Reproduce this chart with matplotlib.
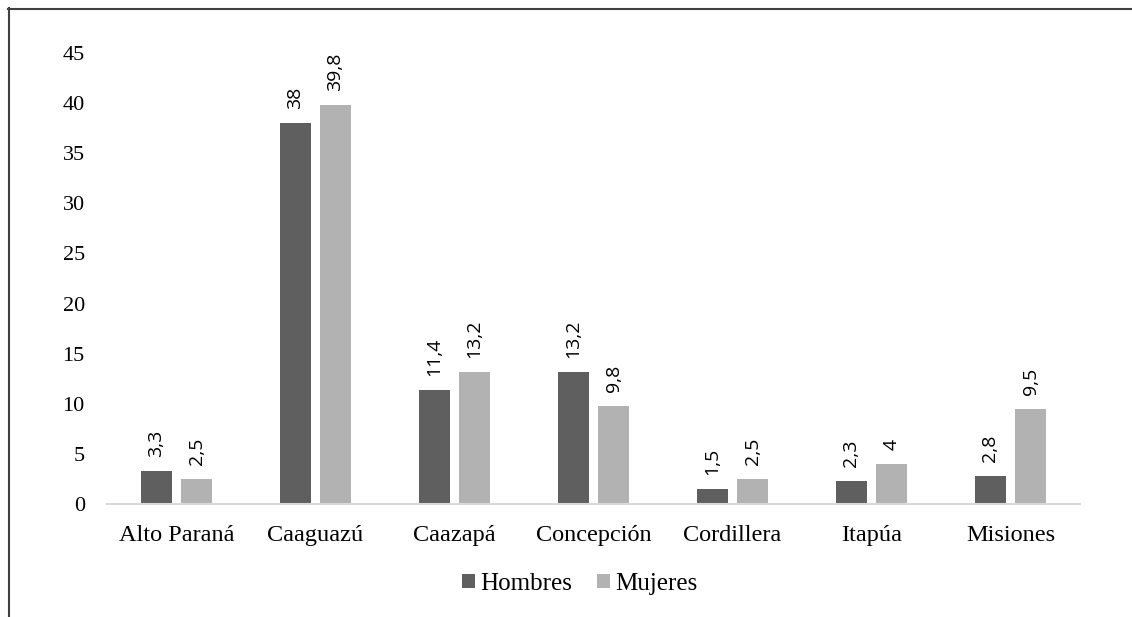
import matplotlib
matplotlib.use("Agg")
import matplotlib.pyplot as plt
import numpy as np
from matplotlib.lines import Line2D

categories = ["Alto Paraná", "Caaguazú", "Caazapá", "Concepción", "Cordillera", "Itapúa", "Misiones"]
hombres = [3.3, 38, 11.4, 13.2, 1.5, 2.3, 2.8]
mujeres = [2.5, 39.8, 13.2, 9.8, 2.5, 4, 9.5]
series_names = ["Hombres", "Mujeres"]
yticks = [0, 5, 10, 15, 20, 25, 30, 35, 40, 45]

W, H = 1132, 617
fig = plt.figure(figsize=(W / 100, H / 100), dpi=100)
ax = fig.add_axes([107 / W, 1 - 504 / H, (1080 - 107) / W, (504 - 53) / H])

x = np.arange(len(categories))
bw = 0.224
off = 0.144
c_h = "#5f5f5f"
c_m = "#b2b2b2"
b1 = ax.bar(x - off, hombres, bw, color=c_h, label=series_names[0])
b2 = ax.bar(x + off, mujeres, bw, color=c_m, label=series_names[1])

def fmt(v):
    return ("%g" % v).replace(".", ",")

lab_font = "Open Sans"
for bars, vals in ((b1, hombres), (b2, mujeres)):
    for r, v in zip(bars, vals):
        ax.annotate(fmt(v), (r.get_x() + r.get_width() / 2, v), xytext=(0, 10),
                    textcoords="offset points", rotation=90, ha="center", va="bottom",
                    fontsize=14, family=lab_font, color="#000000")

ax.set_xlim(-0.5, len(categories) - 0.5)
ax.set_ylim(0, 45)
ax.set_yticks(yticks)
ax.set_yticklabels([str(t) for t in yticks], family="Liberation Serif", fontsize=16)
ax.set_xticks(x)
ax.set_xticklabels(categories, family="Liberation Serif", fontsize=17.5)
ax.tick_params(axis="both", length=0)
ax.tick_params(axis="y", pad=16)
ax.tick_params(axis="x", pad=15)
for s in ("top", "right", "left"):
    ax.spines[s].set_visible(False)
ax.spines["bottom"].set_color("#d9d9d9")
ax.spines["bottom"].set_linewidth(1.5)

leg = fig.legend(handles=[b1, b2], labels=series_names, loc="center",
                 bbox_to_anchor=(580 / W, 1 - 584 / H), ncol=2, frameon=False,
                 prop={"family": "Liberation Serif", "size": 18},
                 handlelength=0.52, handleheight=0.52, handletextpad=0.2, columnspacing=1.0)

# outer frame (clipped at right and bottom)
fig.add_artist(Line2D([8.5 / W, 8.5 / W], [1 - 8 / H, 0], transform=fig.transFigure,
                      color="#404040", lw=1.5))
fig.add_artist(Line2D([8 / W, 1], [1 - 8.5 / H, 1 - 8.5 / H], transform=fig.transFigure,
                      color="#404040", lw=1.5))

fig.savefig("out.png", dpi=100)
